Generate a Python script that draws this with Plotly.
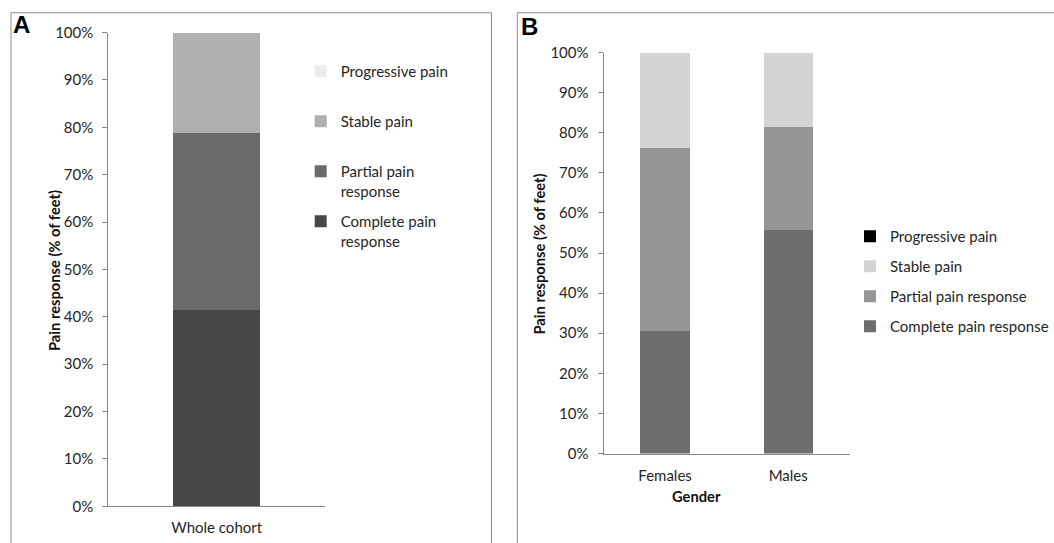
import plotly.graph_objects as go

W, H = 1054, 543

# ---- data ----
series = ["Complete pain response", "Partial pain response", "Stable pain", "Progressive pain"]
legend_names_a = ["Complete pain<br>response", "Partial pain<br>response", "Stable pain<br>&nbsp;", "Progressive pain<br>&nbsp;"]
cat_a = ["Whole cohort"]
vals_a = {
    "Complete pain response": [41.4],
    "Partial pain response": [37.3],
    "Stable pain": [21.3],
    "Progressive pain": [0.0],
}
cat_b = ["Females", "Males"]
vals_b = {
    "Complete pain response": [30.5, 55.8],
    "Partial pain response": [45.8, 25.6],
    "Stable pain": [23.7, 18.6],
    "Progressive pain": [0.0, 0.0],
}
colors_a = ["#474747", "#6b6b6b", "#b0b0b0", "#ececec"]
colors_b = ["#6e6e6e", "#969696", "#d4d4d4", "#000000"]
y_ticks = [0, 10, 20, 30, 40, 50, 60, 70, 80, 90, 100]
y_ticktext = [f"{v}%" for v in y_ticks]

FONT = "Lato"
TXT = "#262626"
AX = "#868686"

def px(x):
    return x / W

def py(y):
    return 1 - y / H

n = len(series)
fig = go.Figure()
for i, s in enumerate(series):
    fig.add_trace(go.Bar(x=cat_a, y=vals_a[s], name=legend_names_a[i], marker_color=colors_a[i],
                         marker_line_width=0, width=0.4, xaxis="x", yaxis="y",
                         legend="legend", legendgroup="a" + str(i), legendrank=n - i))
for i, s in enumerate(series):
    fig.add_trace(go.Bar(x=cat_b, y=vals_b[s], name=s, marker_color=colors_b[i],
                         marker_line_width=0, width=0.4, xaxis="x2", yaxis="y2",
                         legend="legend2", legendgroup="b" + str(i), legendrank=n - i))

axis_common = dict(showline=True, linecolor=AX, linewidth=1, showgrid=False, zeroline=False,
                   automargin=False, tickfont=dict(family=FONT, size=15, color=TXT))
yax_common = dict(axis_common, range=[0, 100], tickmode="array", tickvals=y_ticks, ticktext=y_ticktext,
                  ticks="outside", ticklen=5, tickcolor=AX, ticklabelstandoff=6)
xax_common = dict(axis_common, ticks="", ticklabelstandoff=8)

fig.update_layout(
    width=W, height=H, margin=dict(l=0, r=0, t=0, b=0, autoexpand=False),
    paper_bgcolor="white", plot_bgcolor="white", barmode="stack", showlegend=True,
    font=dict(family=FONT, size=15, color=TXT),
    xaxis=dict(xax_common, domain=[px(108.3), px(325)], anchor="y"),
    yaxis=dict(yax_common, domain=[py(506.3), py(32.5)], anchor="x"),
    xaxis2=dict(xax_common, domain=[px(603.5), px(849.8)], anchor="y2"),
    yaxis2=dict(yax_common, domain=[py(453.5), py(52.5)], anchor="x2"),
    legend=dict(x=px(300.7), y=py(55), xanchor="left", yanchor="top", traceorder="grouped",
                valign="top", tracegroupgap=8, font=dict(family=FONT, size=15, color=TXT),
                bgcolor="rgba(0,0,0,0)", itemwidth=30),
    legend2=dict(x=px(850), y=py(220), xanchor="left", yanchor="top", traceorder="grouped",
                 tracegroupgap=7.5, font=dict(family=FONT, size=15, color=TXT),
                 bgcolor="rgba(0,0,0,0)", itemwidth=30),
    shapes=[
        dict(type="rect", xref="paper", yref="paper", x0=px(11), x1=px(491.5), y0=py(560), y1=py(12.7),
             line=dict(color="#8c8c8c", width=1), fillcolor="rgba(0,0,0,0)"),
        dict(type="rect", xref="paper", yref="paper", x0=px(517.3), x1=px(1070), y0=py(560), y1=py(12.7),
             line=dict(color="#8c8c8c", width=1), fillcolor="rgba(0,0,0,0)"),
    ],
    annotations=[
        dict(text="<b>A</b>", xref="paper", yref="paper", x=px(11), y=py(25), xanchor="left", yanchor="middle",
             showarrow=False, font=dict(family="Liberation Sans", size=24, color="#000")),
        dict(text="<b>B</b>", xref="paper", yref="paper", x=px(519), y=py(26.5), xanchor="left", yanchor="middle",
             showarrow=False, font=dict(family="Liberation Sans", size=24, color="#000")),
        dict(text="<b>Pain response (% of feet)</b>", xref="paper", yref="paper", x=px(42.5), y=py(270.5),
             textangle=-90, showarrow=False, font=dict(family=FONT, size=14.7, color="#111")),
        dict(text="<b>Pain response (% of feet)</b>", xref="paper", yref="paper", x=px(538.5), y=py(254),
             textangle=-90, showarrow=False, font=dict(family=FONT, size=14.7, color="#111")),
        dict(text="<b>Gender</b>", xref="paper", yref="paper", x=px(722.5), y=py(507),
             showarrow=False, font=dict(family=FONT, size=14.7, color="#111")),
    ],
)

fig.write_html(
    "out.html",
    config={"displayModeBar": False},
    post_script=(
        "document.documentElement.style.margin='0';"
        "document.body.style.margin='0';"
        "document.body.style.overflow='hidden';"
        "var d=document.getElementById('{plot_id}');"
        "d.style.position='fixed';d.style.left='0px';d.style.top='0px';"
    ),
)
